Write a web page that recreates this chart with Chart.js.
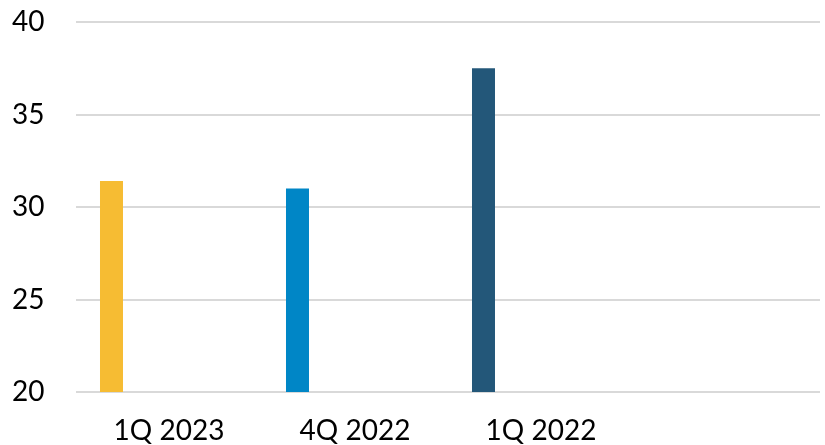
<!DOCTYPE html>
<html>
<head>
<meta charset="utf-8">
<script src="https://cdn.jsdelivr.net/npm/chart.js@4/dist/chart.umd.min.js"></script>
<style>
  html, body { margin: 0; padding: 0; background: #ffffff; }
  #wrap { width: 825px; height: 445px; }
</style>
</head>
<body>
<div id="wrap"><canvas id="chart" width="825" height="445"></canvas></div>
<script>
// Quarter labels (last slot left empty)
const categories = ['1Q 2023', '4Q 2022', '1Q 2022', ''];
// Values per quarter
const values = [31.4, 31.0, 37.5, null];
// Bar colour per quarter
const barColors = ['#F6BC33', '#0086C6', '#235779', '#000000'];
// Y-axis range and step
const yMin = 20, yMax = 40, yStep = 5;
// Number of bar slots in each category group (only the first is filled)
const slotCount = 6;

const FONT = "Lato, 'Open Sans', sans-serif";

const datasets = [{
  label: 'Value',
  data: values,
  backgroundColor: barColors,
  borderWidth: 0
}];
for (let i = 1; i < slotCount; i++) {
  datasets.push({ label: 'slot' + i, data: categories.map(() => null) });
}

new Chart(document.getElementById('chart'), {
  type: 'bar',
  data: { labels: categories, datasets: datasets },
  options: {
    responsive: false,
    animation: false,
    categoryPercentage: 0.742,
    barPercentage: 1.0,
    layout: { padding: { left: 12, right: 5, top: 22, bottom: 0 } },
    plugins: {
      legend: { display: false },
      tooltip: { enabled: false }
    },
    scales: {
      x: {
        grid: { display: false, drawTicks: false },
        border: { display: false },
        ticks: {
          color: '#000000',
          font: { family: FONT, size: 28 },
          padding: 22,
          maxRotation: 0
        },
        afterFit(scale) { scale.height = 53; }
      },
      y: {
        min: yMin,
        max: yMax,
        grid: { color: '#D9D9D9', lineWidth: 2, drawTicks: false },
        border: { display: false },
        ticks: {
          stepSize: yStep,
          color: '#000000',
          font: { family: FONT, size: 28 },
          padding: 0,
          crossAlign: 'far'
        },
        afterFit(scale) { scale.width = 64; }
      }
    }
  }
});
</script>
</body>
</html>
